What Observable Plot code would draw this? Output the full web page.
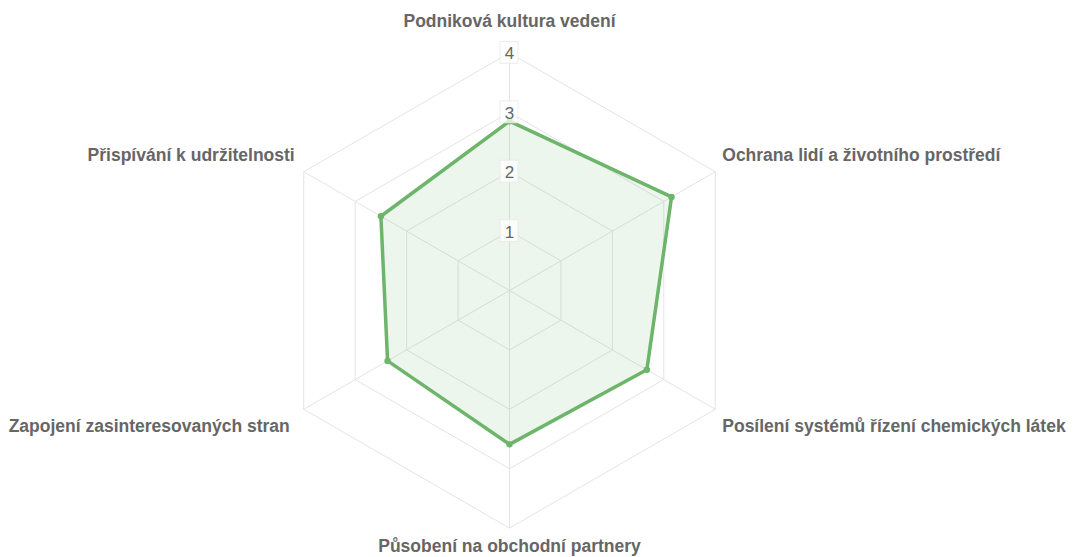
<!DOCTYPE html>
<html>
<head>
<meta charset="utf-8">
<script src="https://cdn.jsdelivr.net/npm/d3@7"></script>
<script src="https://cdn.jsdelivr.net/npm/@observablehq/plot@0.6"></script>
<style>
  html, body { margin: 0; padding: 0; background: #fff; }
  #chart svg { display: block; }
</style>
</head>
<body>
<div id="chart"></div>
<script>
const categories = [
  "Podniková kultura vedení",
  "Ochrana lidí a životního prostředí",
  "Posílení systémů řízení chemických látek",
  "Působení na obchodní partnery",
  "Zapojení zasinteresovaných stran",
  "Přispívání k udržitelnosti"
];
const values = [2.85, 3.15, 2.67, 2.59, 2.37, 2.5];
const tickValues = [1, 2, 3, 4];
const tickLabels = ["1", "2", "3", "4"];
const maxValue = 4;

const W = 1073, H = 557;
const cx = 509, cy = 290, unit = 59.4;
const n = categories.length;
const ang = i => (i * 2 * Math.PI) / n;
const px = (i, v) => v * Math.sin(ang(i));
const py = (i, v) => v * Math.cos(ang(i));

const green = "#6cb56a";
const gridColor = "#e4e4e4";
const textColor = "#666";

const grid = [];
for (const t of tickValues) {
  for (let k = 0; k <= n; k++) grid.push({ level: t, i: k % n, v: t });
}
const poly = [];
for (let k = 0; k <= n; k++) poly.push({ i: k % n, v: values[k % n] });
const pts = values.map((v, i) => ({ i, v }));
const labels = categories.map((c, i) => ({ c, i }));
const ticks = tickValues.map((v, k) => ({ v, t: tickLabels[k] }));

function labelMark(filterFn, opts) {
  return Plot.text(labels.filter(filterFn), {
    x: d => px(d.i, maxValue),
    y: d => py(d.i, maxValue),
    text: d => d.c,
    fill: textColor,
    fontSize: 17.5,
    fontWeight: "bold",
    fontFamily: "Liberation Sans, Arial, sans-serif",
    lineAnchor: "middle",
    ...opts
  });
}
const s = i => Math.sin(ang(i)), c = i => Math.cos(ang(i));

const chart = Plot.plot({
  width: W,
  height: H,
  margin: 0,
  x: { axis: null, domain: [-cx / unit, (W - cx) / unit] },
  y: { axis: null, domain: [-(H - cy) / unit, cy / unit] },
  style: { background: "#fff", fontFamily: "Liberation Sans, Arial, sans-serif" },
  marks: [
    Plot.line(grid, { x: d => px(d.i, d.v), y: d => py(d.i, d.v), z: "level", stroke: gridColor, strokeWidth: 1 }),
    Plot.link(labels, { x1: 0, y1: 0, x2: d => px(d.i, maxValue), y2: d => py(d.i, maxValue), stroke: gridColor, strokeWidth: 1 }),
    Plot.area(poly, { x1: d => px(d.i, d.v), y1: d => py(d.i, d.v), x2: 0, y2: 0, fill: green, fillOpacity: 0.12 }),
    Plot.line(poly, { x: d => px(d.i, d.v), y: d => py(d.i, d.v), stroke: green, strokeWidth: 3.5, strokeLinejoin: "round" }),
    Plot.dot(pts, { x: d => px(d.i, d.v), y: d => py(d.i, d.v), r: 3.2, fill: green }),
    Plot.rect(ticks, { x1: 0, x2: 0, y1: d => d.v, y2: d => d.v, insetLeft: -9, insetRight: -9, insetTop: -11, insetBottom: -11, fill: "white", fillOpacity: 0.75, stroke: "#e8e8e8", strokeOpacity: 0.8 }),
    Plot.text(ticks, { x: 0, y: d => d.v, text: d => d.t, fill: textColor, fontSize: 17, dy: 1 }),
    labelMark(d => Math.abs(s(d.i)) < 0.01 && c(d.i) > 0, { textAnchor: "middle", dy: -32 }),
    labelMark(d => Math.abs(s(d.i)) < 0.01 && c(d.i) < 0, { textAnchor: "middle", dy: 18 }),
    labelMark(d => s(d.i) > 0.01 && c(d.i) > 0, { textAnchor: "start", dx: 7, dy: -16 }),
    labelMark(d => s(d.i) > 0.01 && c(d.i) < 0, { textAnchor: "start", dx: 7, dy: 17 }),
    labelMark(d => s(d.i) < -0.01 && c(d.i) > 0, { textAnchor: "end", dx: -9, dy: -16 }),
    labelMark(d => s(d.i) < -0.01 && c(d.i) < 0, { textAnchor: "end", dx: -14, dy: 17 })
  ]
});
document.getElementById("chart").appendChild(chart);
</script>
</body>
</html>
